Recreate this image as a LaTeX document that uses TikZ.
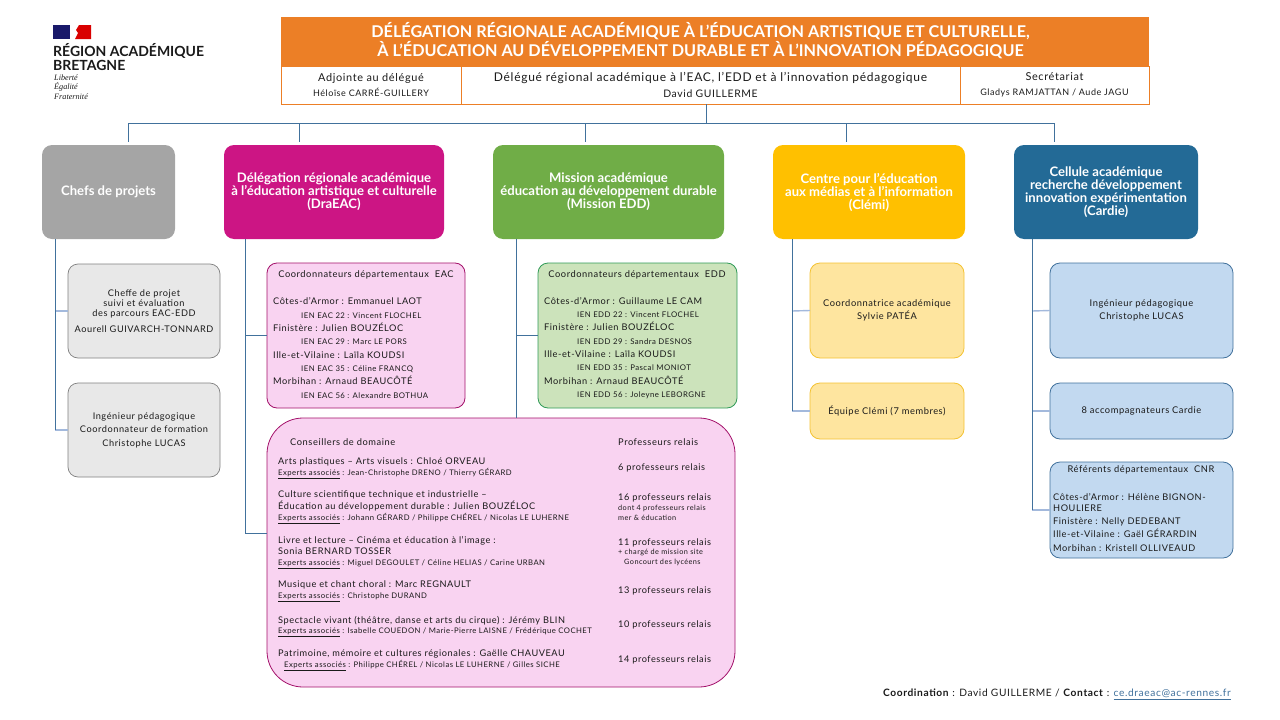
\documentclass[tikz,border=0pt]{standalone}
\usepackage{fontspec}
\setmainfont{Lato}
\newfontfamily\spaced[LetterSpace=6]{Lato}
\newfontfamily\devise{Liberation Serif}
\usetikzlibrary{arrows.meta,calc,positioning}
\definecolor{orangehead}{HTML}{EC7F26}
\definecolor{magentahead}{HTML}{CC1584}
\definecolor{greenhead}{HTML}{70AD47}
\definecolor{yellowhead}{HTML}{FFC000}
\definecolor{bluehead}{HTML}{236A96}
\definecolor{greyhead}{HTML}{A5A5A5}
\definecolor{linkdark}{HTML}{41719C}
\definecolor{linklight}{HTML}{A3B9DC}
\definecolor{inktext}{HTML}{1A1A1A}
\definecolor{pinkfill}{HTML}{F9D3F1}
\definecolor{greenfill}{HTML}{CCE3BB}
\definecolor{greenline}{HTML}{2F9A57}
\definecolor{yellowfill}{HTML}{FEE59F}
\definecolor{yellowline}{HTML}{F3C233}
\definecolor{bluefill}{HTML}{C2D9F0}
\newcommand{\orgbox}[7]{%
  \node[#6, minimum width={#4-#2}, minimum height={#5-#3}]
    (#1) at ({(#2+#4)/2},{(#3+#5)/2}) {#7};
}
\newcommand{\domain}[4]{%
  \node[txt, anchor=west] (#1) at (#2,#3) {#4};
}
\newcommand{\expert}[1]{\fontsize{7.7}{10}\selectfont\underline{Experts associés} : #1}
\newcommand{\ien}[1]{\fontsize{7.8}{10}\selectfont #1}
\newcommand{\relnote}[1]{\fontsize{7.3}{10}\selectfont #1}
\newcommand{\relmain}[1]{\fontsize{9.2}{10}\selectfont #1}
\newcommand{\celltop}[2]{\spaced\fontsize{#1}{13}\selectfont #2}
\newcommand{\cellsub}[2]{\spaced\fontsize{#1}{12}\selectfont #2}
\begin{document}
\begin{tikzpicture}[
    x=1pt, y=-1pt,
    box/.style={rounded corners=10pt, inner sep=2pt, outer sep=0pt, align=center, text=inktext},
    head/.style={box, text=white, font=\fontsize{13.1}{13}\selectfont\bfseries},
    greybox/.style={box, draw=black!50, fill=black!9, line width=0.7pt, font=\spaced\fontsize{9.2}{13.5}\selectfont},
    pinkbox/.style={box, draw=magentahead!80!black, fill=pinkfill, line width=0.8pt},
    greenbox/.style={box, draw=greenline, fill=greenfill, line width=0.8pt},
    yellowbox/.style={box, draw=yellowline, fill=yellowfill, line width=0.8pt, font=\spaced\fontsize{9.3}{13.5}\selectfont},
    bluebox/.style={box, draw=linkdark, fill=bluefill, line width=0.8pt, font=\spaced\fontsize{9.3}{13.5}\selectfont},
    cell/.style={draw=orangehead, line width=0.8pt, inner sep=0pt, outer sep=0pt, align=center, text=inktext},
    txt/.style={inner sep=0pt, align=left, text=inktext, font=\spaced\fontsize{9.2}{13.3}\selectfont},
    smalltxt/.style={txt, font=\spaced\fontsize{9.3}{10}\selectfont},
    link/.style={draw=linkdark, line width=0.9pt},
    branch/.style={draw=linklight, line width=1.4pt},
]
\useasboundingbox (0,0) rectangle (1280,720);

% ---------- logo ----------
\fill[blue!35!black!90] (53,25) rectangle (70,39);
\fill[red!85!black] (91,25) -- (91,39) -- (75,39) -- (78,33) -- (76,30) -- (79,25) -- cycle;
\node[inner sep=0pt, anchor=west, align=left, font=\fontsize{14}{14.5}\selectfont\bfseries, text=inktext] (region) at (53,57) {RÉGION ACADÉMIQUE\\BRETAGNE};
\node[inner sep=0pt, anchor=north west, align=left, font=\devise\itshape\fontsize{8.2}{9.6}\selectfont, text=inktext] (devise) at (54,74.5) {Liberté\\Égalité\\Fraternité};

% ---------- title band ----------
\orgbox{title}{281}{17}{1149}{66}{fill=orangehead, inner sep=0pt}{}
\node[align=center, inner sep=0pt, text=white, font=\fontsize{16.2}{18.6}\selectfont\bfseries] (titletxt) at (700.5,40.5) {DÉLÉGATION RÉGIONALE ACADÉMIQUE À L’ÉDUCATION ARTISTIQUE ET CULTURELLE,\\À L’ÉDUCATION AU DÉVELOPPEMENT DURABLE ET À L’INNOVATION PÉDAGOGIQUE};
\orgbox{adjointe}{281}{66}{461}{104}{cell}{\celltop{10.9}{Adjointe au délégué}\\[3pt]\cellsub{9}{Héloïse CARRÉ-GUILLERY}}
\orgbox{delegue}{461}{66}{960}{104}{cell}{\celltop{12}{Délégué régional académique à l’EAC, l’EDD et à l’innovation pédagogique}\\[4pt]\cellsub{10.4}{David GUILLERME}}
\orgbox{secretariat}{960}{66}{1149}{104}{cell}{\celltop{10.9}{Secrétariat}\\[3pt]\cellsub{9}{Gladys RAMJATTAN / Aude JAGU}}

% ---------- services ----------
\orgbox{chefs}{42}{145}{175}{239}{head, fill=greyhead}{Chefs de projets}
\orgbox{draeac}{224}{145}{444}{239}{head, fill=magentahead}{Délégation régionale académique\\à l’éducation artistique et culturelle\\(DraEAC)}
\orgbox{medd}{493}{145}{724}{239}{head, fill=greenhead}{Mission académique\\éducation au développement durable\\(Mission EDD)}
\orgbox{clemi}{773}{145}{965}{239}{head, fill=yellowhead}{Centre pour l’éducation\\aux médias et à l’information\\(Clémi)}
\orgbox{cardie}{1014}{145}{1198}{239}{head, fill=bluehead}{Cellule académique\\recherche développement\\innovation expérimentation\\(Cardie)}

% ---------- chefs de projets ----------
\orgbox{cheffe}{68}{264}{220}{358}{greybox}{Cheffe de projet\\[-3.5pt]suivi et évaluation\\[-3.5pt]des parcours EAC-EDD\\[2pt]Aourell GUIVARCH-TONNARD}
\orgbox{ingenieur}{68}{383}{220}{477}{greybox}{Ingénieur pédagogique\\Coordonnateur de formation\\Christophe LUCAS}

% ---------- coordonnateurs ----------
\orgbox{coordeac}{267}{263}{465}{408}{pinkbox}{}
\node[smalltxt, anchor=center] (titreac) at (366,275) {Coordonnateurs départementaux\ \ EAC};
\domain{listeac}{273}{348}{%
Côtes-d’Armor : Emmanuel LAOT\\
\hspace*{28pt}\ien{IEN EAC 22 : Vincent FLOCHEL}\\
Finistère : Julien BOUZÉLOC\\
\hspace*{28pt}\ien{IEN EAC 29 : Marc LE PORS}\\
Ille-et-Vilaine : Laïla KOUDSI\\
\hspace*{28pt}\ien{IEN EAC 35 : Céline FRANCQ}\\
Morbihan : Arnaud BEAUCÔTÉ\\
\hspace*{28pt}\ien{IEN EAC 56 : Alexandre BOTHUA}}

\orgbox{coordedd}{538}{263}{737}{408}{greenbox}{}
\node[smalltxt, anchor=center] (titredd) at (637,275) {Coordonnateurs départementaux\ \ EDD};
\domain{listedd}{544}{348}{%
Côtes-d’Armor : Guillaume LE CAM\\
\hspace*{33pt}\ien{IEN EDD 22 : Vincent FLOCHEL}\\
Finistère : Julien BOUZÉLOC\\
\hspace*{33pt}\ien{IEN EDD 29 : Sandra DESNOS}\\
Ille-et-Vilaine : Laïla KOUDSI\\
\hspace*{33pt}\ien{IEN EDD 35 : Pascal MONIOT}\\
Morbihan : Arnaud BEAUCÔTÉ\\
\hspace*{33pt}\ien{IEN EDD 56 : Joleyne LEBORGNE}}

% ---------- conseillers de domaine ----------
\orgbox{conseillers}{267}{418}{735}{687}{pinkbox, rounded corners=36pt}{}
\node[smalltxt, anchor=west] (conshead) at (290,442) {Conseillers de domaine};
\node[smalltxt, anchor=west] (relhead) at (618,442) {Professeurs relais};
\domain{arts}{278}{468}{Arts plastiques – Arts visuels : Chloé ORVEAU\\[-2.5pt]\expert{Jean-Christophe DRENO / Thierry GÉRARD}}
\domain{culture}{278}{507.5}{Culture scientifique technique et industrielle –\\[-1.5pt]Éducation au développement durable : Julien BOUZÉLOC\\[-2.5pt]\expert{Johann GÉRARD / Philippe CHÉREL / Nicolas LE LUHERNE}}
\domain{livre}{278}{552.5}{Livre et lecture – Cinéma et éducation à l’image :\\[-1.5pt]Sonia BERNARD TOSSER\\[-2.5pt]\expert{Miguel DEGOULET / Céline HELIAS / Carine URBAN}}
\domain{musique}{278}{591.5}{Musique et chant choral : Marc REGNAULT\\[-2.5pt]\expert{Christophe DURAND}}
\domain{spectacle}{278}{626.5}{Spectacle vivant (théâtre, danse et arts du cirque) : Jérémy BLIN\\[-2.5pt]\expert{Isabelle COUEDON / Marie-Pierre LAISNE / Frédérique COCHET}}
\domain{patrimoine}{278}{660.5}{Patrimoine, mémoire et cultures régionales : Gaëlle CHAUVEAU\\[-2.5pt]\hspace*{6pt}\expert{Philippe CHÉREL / Nicolas LE LUHERNE / Gilles SICHE}}

\domain{relarts}{618}{468}{6 professeurs relais}
\domain{relculture}{618}{507.5}{\relmain{16 professeurs relais}\\[-3.3pt]\relnote{dont 4 professeurs relais}\\[-3.3pt]\relnote{mer \& éducation}}
\domain{rellivre}{618}{552}{\relmain{11 professeurs relais}\\[-3.5pt]\relnote{+ chargé de mission site}\\[-3.8pt]\hspace*{6pt}\relnote{Goncourt des lycéens}}
\domain{relmusique}{618}{591}{13 professeurs relais}
\domain{relspectacle}{618}{625}{10 professeurs relais}
\domain{relpatrimoine}{618}{660}{14 professeurs relais}

% ---------- clemi ----------
\orgbox{coordclemi}{810}{263}{964}{358}{yellowbox}{Coordonnatrice académique\\Sylvie PATÉA}
\orgbox{equipe}{810}{383}{964}{439}{yellowbox}{Équipe Clémi (7 membres)}

% ---------- cardie ----------
\orgbox{ingcardie}{1050}{263}{1233}{358}{bluebox}{Ingénieur pédagogique\\Christophe LUCAS}
\orgbox{accomp}{1050}{383}{1233}{439}{bluebox}{8 accompagnateurs Cardie}
\orgbox{referents}{1050}{462}{1233}{558}{bluebox}{}
\node[smalltxt, anchor=center] (titrecnr) at (1141,470) {Référents départementaux\ \ CNR};
\domain{listecnr}{1053}{522.5}{%
Côtes-d’Armor : Hélène BIGNON-\\[-3pt]
HOULIERE\\
Finistère : Nelly DEDEBANT\\
Ille-et-Vilaine : Gaël GÉRARDIN\\
Morbihan : Kristell OLLIVEAUD}

% ---------- footer ----------
\node[inner sep=0pt, anchor=east, text=inktext, font=\spaced\fontsize{10.2}{11}\selectfont] (contact) at (1231,694)
  {\textbf{Coordination} : David GUILLERME / \textbf{Contact} : \textcolor{linkdark}{\underline{ce.draeac@ac-rennes.fr}}};

% ---------- top connectors ----------
\coordinate (bus) at (706,123);
\draw[link] ([xshift=-4.5pt]delegue.south) -- (bus);
\draw[link, shorten >=3pt] (bus) -| ([xshift=19.5pt]chefs.north);
\draw[link, shorten >=3pt] (bus) -| ([xshift=-35pt]draeac.north);
\draw[link, shorten >=3pt] (bus) -| ([xshift=-23.5pt]medd.north);
\draw[link, shorten >=3pt] (bus) -| ([xshift=-23pt]clemi.north);
\draw[link, shorten >=3pt] (bus) -| ([xshift=-52pt]cardie.north);

% ---------- side connectors ----------
\draw[branch] (55,311) -- (cheffe.west);
\draw[branch] (55,430) -- (ingenieur.west);
\draw[link] ([xshift=-53.5pt]chefs.south) -- (55,430);
\draw[link] ([xshift=-89pt]draeac.south) |- ([yshift=19.5pt]conseillers.west);
\draw[link] (245,335.5) -- (coordeac.west);
\draw[link] ([xshift=-92.5pt]medd.south) -- ([xshift=-92.5pt]medd.south |- conseillers.north);
\draw[link] (516,335.5) -- (coordedd.west);
\draw[branch] (792,311) -- (coordclemi.west);
\draw[branch] (792,411) -- (equipe.west);
\draw[link] ([xshift=-77pt]clemi.south) -- (792,411);
\draw[branch] (1032,311) -- (ingcardie.west);
\draw[branch] (1032,411) -- (accomp.west);
\draw[branch] (1032,510) -- (referents.west);
\draw[link] ([xshift=-74pt]cardie.south) -- (1032,510);
\end{tikzpicture}
\end{document}
